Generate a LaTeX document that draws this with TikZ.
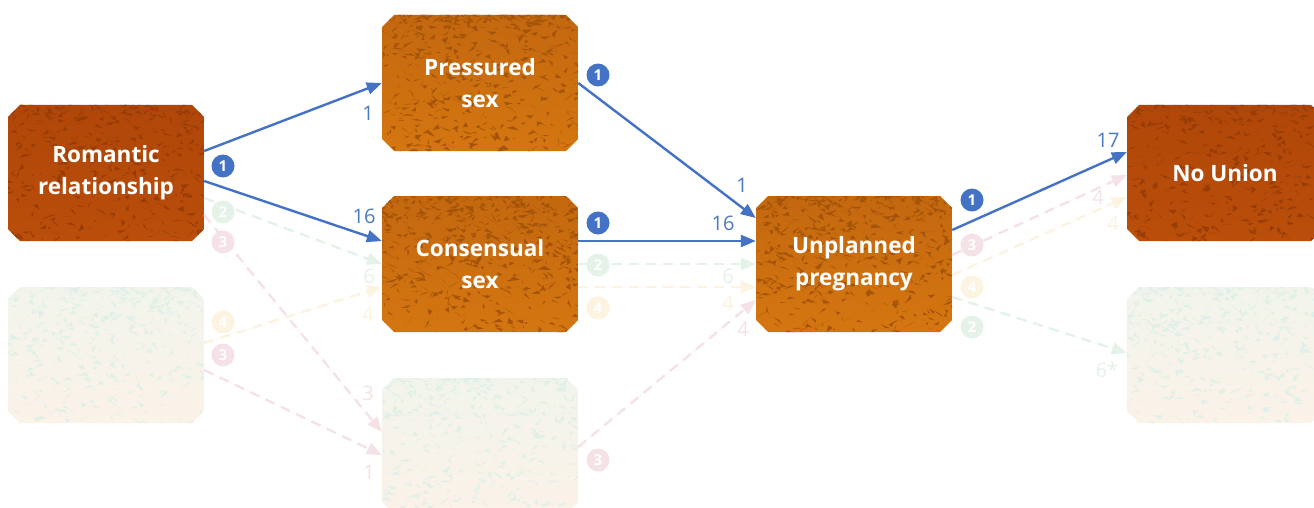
\documentclass[tikz,border=0pt]{standalone}
\usepackage{fontspec}
\setmainfont{Open Sans}
\usetikzlibrary{shapes.misc,arrows.meta,calc}
\definecolor{arrowblue}{RGB}{68,114,196}
\definecolor{labblue}{RGB}{74,122,192}
\definecolor{gGreen}{RGB}{229,242,232}
\definecolor{gPink}{RGB}{245,226,231}
\definecolor{gYellow}{RGB}{252,243,224}
\definecolor{romTop}{RGB}{176,71,9}
\definecolor{romBot}{RGB}{186,78,10}
\definecolor{romFleck}{RGB}{152,60,6}
\definecolor{midTop}{RGB}{196,104,16}
\definecolor{midBot}{RGB}{212,118,16}
\definecolor{midFleck}{RGB}{164,84,8}
\definecolor{ghTop}{RGB}{242,244,236}
\definecolor{ghBot}{RGB}{251,242,232}
\definecolor{ghFleck}{RGB}{222,240,232}
% background of a box: centre x, centre y, top, bottom, fleck colour, count, exponent
\newcommand\boxbg[7]{%
  \begin{scope}
  \clip ({#1-86},{#2-68}) -- ({#1+86},{#2-68}) -- ({#1+98},{#2-56}) --
        ({#1+98},{#2+56}) -- ({#1+86},{#2+68}) -- ({#1-86},{#2+68}) --
        ({#1-98},{#2+56}) -- ({#1-98},{#2-56}) -- cycle;
  \shade[top color=#3, bottom color=#4] ({#1-98},{#2-68}) rectangle ({#1+98},{#2+68});
  \foreach \k in {1,...,#6}{%
    \pgfmathsetmacro\fx{#1-102+204*rnd}%
    \pgfmathsetmacro\fy{#2-72+144*pow(rnd,#7)}%
    \pgfmathsetmacro\ax{14*rnd-7}\pgfmathsetmacro\ay{9*rnd-4.5}%
    \pgfmathsetmacro\bx{14*rnd-7}\pgfmathsetmacro\by{9*rnd-4.5}%
    \fill[#5] (\fx,\fy) -- ++(\ax,\ay) -- ++(\bx,\by) -- cycle;
  }
  \end{scope}}
\tikzset{
  box/.style={chamfered rectangle, chamfered rectangle xsep=12pt,
    chamfered rectangle ysep=12pt, minimum width=196pt, minimum height=136pt,
    inner sep=0pt, text=white, align=center,
    font=\fontsize{22.5}{32}\selectfont\bfseries},
  blu/.style={draw=arrowblue, line width=2.4pt, -{Triangle[length=15pt,width=12pt]}},
  ghost/.style={draw=#1, fill=#1, line width=2.4pt, dash pattern=on 10pt off 7pt,
    -{Triangle[length=15pt,width=12pt]}},
  badge/.style={circle, inner sep=0pt, minimum size=23pt, fill=#1, text=white,
    font=\fontsize{15}{15}\selectfont\bfseries},
  lab/.style={inner sep=0pt, text=#1, font=\fontsize{20}{20}\selectfont},
}
\begin{document}
\begin{tikzpicture}[x=1pt,y=-1pt]
\pgfmathsetseed{7}
\useasboundingbox (0,0) rectangle (1314,508);
\fill[white] (0,0) rectangle (1314,508);
% box backgrounds
\boxbg{106}{355}{ghTop}{ghBot}{ghFleck}{520}{1.8}
\boxbg{480}{446}{ghTop}{ghBot}{ghFleck}{520}{1.8}
\boxbg{1225}{355}{ghTop}{ghBot}{ghFleck}{520}{1.8}
\boxbg{106}{173}{romTop}{romBot}{romFleck}{420}{1.5}
\boxbg{480}{83}{midTop}{midBot}{midFleck}{620}{2.0}
\boxbg{480}{264}{midTop}{midBot}{midFleck}{620}{2.0}
\boxbg{854}{264}{midTop}{midBot}{midFleck}{620}{2.0}
\boxbg{1225}{173}{romTop}{romBot}{romFleck}{420}{1.5}
% ghost boxes
\node[box] (gl) at (106,355) {};
\node[box] (gb) at (480,446) {};
\node[box] (gr) at (1225,355) {};
% main boxes
\node[box] (rom) at (106,173) {Romantic\\relationship};
\node[box] (pres) at (480,83) {Pressured\\sex};
\node[box] (cons) at (480,264) {Consensual\\sex};
\node[box] (unpl) at (854,264) {Unplanned\\pregnancy};
\node[box] (nou) at (1225,173) {No Union};
% ghost connectors
\draw[ghost=gGreen] ([yshift=-25pt]rom.east) -- (cons.west);
\draw[ghost=gGreen] (cons.east) -- (unpl.west);
\draw[ghost=gGreen] ([yshift=-33pt]unpl.east) -- ([yshift=2pt]gr.west);
\draw[ghost=gPink] ([yshift=-42pt]rom.east) -- ([yshift=14pt]gb.west);
\draw[ghost=gPink] ([yshift=-15pt]gl.east) -- ([yshift=-9pt]gb.west);
\draw[ghost=gPink] ([yshift=-1pt]gb.east) -- ([yshift=-36pt]unpl.west);
\draw[ghost=gPink] ([yshift=9pt]unpl.east) -- ([yshift=-2pt]nou.west);
\draw[ghost=gYellow] ([yshift=12pt]gl.east) -- ([yshift=-23pt]cons.west);
\draw[ghost=gYellow] ([yshift=-23pt]cons.east) -- ([yshift=-23pt]unpl.west);
\draw[ghost=gYellow] ([yshift=-11pt]unpl.east) -- ([yshift=-24pt]nou.west);
% main connectors
\draw[blu] ([yshift=22pt]rom.east) -- (pres.west);
\draw[blu] ([yshift=-8pt]rom.east) -- ([yshift=23pt]cons.west);
\draw[blu] (pres.east) -- ([yshift=46pt]unpl.west);
\draw[blu] ([yshift=23pt]cons.east) -- ([yshift=23pt]unpl.west);
\draw[blu] ([yshift=34pt]unpl.east) -- ([yshift=21pt]nou.west);
% badges
\node[badge=arrowblue] (b1) at (223,166) {1};
\node[badge=arrowblue] (b2) at (598,75) {1};
\node[badge=arrowblue] (b3) at (598,223) {1};
\node[badge=arrowblue] (b4) at (972,200) {1};
\node[badge=gGreen] (g1) at (223,212) {2};
\node[badge=gGreen] (g2) at (598,265) {2};
\node[badge=gGreen] (g3) at (972,327) {2};
\node[badge=gPink] (p1) at (223,242) {3};
\node[badge=gPink] (p2) at (223,355) {3};
\node[badge=gPink] (p3) at (598,460) {3};
\node[badge=gPink] (p4) at (972,245) {3};
\node[badge=gYellow] (y1) at (223,322) {4};
\node[badge=gYellow] (y2) at (598,308) {4};
\node[badge=gYellow] (y3) at (972,287) {4};
% labels
\node[lab=labblue] (l1) at (368,113) {1};
\node[lab=labblue] (l2) at (364,216) {16};
\node[lab=labblue] (l3) at (742,185) {1};
\node[lab=labblue] (l4) at (723,223) {16};
\node[lab=labblue] (l5) at (1108,140) {17};
\node[lab=gGreen] (lg1) at (369,276) {6};
\node[lab=gGreen] (lg2) at (728,276) {6};
\node[lab=gGreen] (lg3) at (1107,370) {6*};
\node[lab=gPink] (lp1) at (368,393) {3};
\node[lab=gPink] (lp2) at (369,472) {1};
\node[lab=gPink] (lp3) at (743,329) {4};
\node[lab=gPink] (lp4) at (1098,197) {4};
\node[lab=gYellow] (ly1) at (368,314) {4};
\node[lab=gYellow] (ly2) at (728,303) {4};
\node[lab=gYellow] (ly3) at (1113,223) {4};
\end{tikzpicture}
\end{document}
